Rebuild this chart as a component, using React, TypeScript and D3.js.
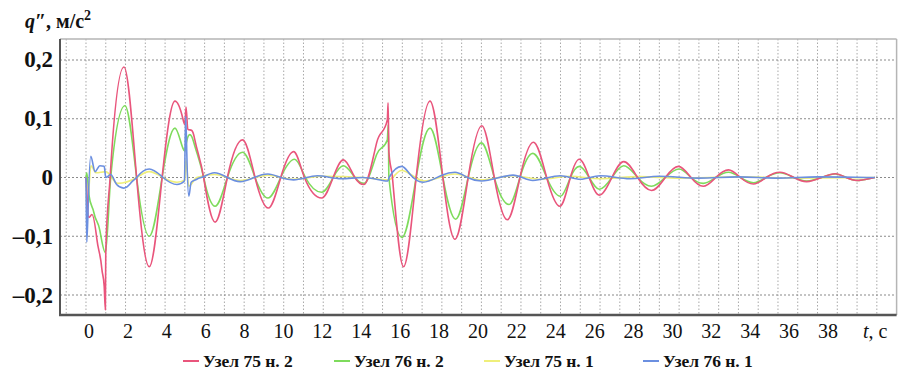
import React from "react";
import * as d3 from "d3";

// Series: time (s) and acceleration (m/s²) read point by point
const redT = [0, 0.05, 0.15, 0.3, 0.55, 0.8, 0.92, 0.98, 1.0, 1.22, 1.92, 2.56, 3.2, 3.85, 4.5, 4.9, 5.0, 5.06, 5.15, 5.35, 5.5, 5.95, 6.53, 7.15, 7.92, 8.55, 9.22, 9.85, 10.5, 11.05, 11.92, 12.5, 13.02, 13.6, 14.06, 14.7, 15.24, 15.28, 15.32, 15.5, 16.06, 16.7, 17.4, 18.05, 18.66, 19.33, 20.02, 20.65, 21.31, 21.95, 22.63, 23.3, 23.97, 24.5, 24.95, 25.45, 25.96, 26.6, 27.2, 27.9, 28.6, 29.3, 29.96, 30.6, 31.22, 31.85, 32.5, 33.1, 33.76, 34.4, 35.1, 35.8, 36.45, 37.2, 37.9, 38.45, 39.0, 39.9];
const redV = [0, -0.03, -0.068, -0.063, -0.105, -0.155, -0.185, -0.225, -0.128, 0, 0.188, 0, -0.152, 0, 0.13, 0.1, 0.09, 0.12, 0.082, 0.08, 0.065, 0, -0.076, 0, 0.064, 0, -0.052, 0, 0.044, 0, -0.035, 0, 0.03, 0, -0.012, 0.059, 0.098, 0.127, 0.044, 0, -0.152, 0, 0.13, 0, -0.105, 0, 0.088, 0, -0.072, 0, 0.06, 0, -0.049, 0, 0.031, 0, -0.03, 0, 0.027, 0, -0.022, 0, 0.019, 0, -0.015, 0, 0.013, 0, -0.011, 0, 0.009, 0, -0.007, 0, 0.0065, 0, -0.005, 0];

const greenT = [0, 0.04, 0.15, 0.4, 0.7, 0.98, 1.25, 1.97, 2.56, 3.2, 3.85, 4.5, 4.9, 5.0, 5.08, 5.25, 5.45, 5.95, 6.53, 7.15, 7.92, 8.55, 9.2, 9.85, 10.55, 11.1, 11.92, 12.5, 13.02, 13.6, 14.06, 14.7, 15.24, 15.29, 15.32, 15.98, 16.7, 17.4, 18.05, 18.7, 19.33, 20.0, 20.65, 21.4, 21.95, 22.6, 23.3, 24.0, 24.5, 24.95, 25.45, 25.96, 26.6, 27.2, 27.9, 28.6, 29.3, 30.0, 30.6, 31.22, 31.85, 32.5, 33.1, 33.76, 34.4, 35.1, 35.8, 36.45, 37.2, 37.9, 38.45, 39.0, 39.9];
const greenV = [0, 0.008, -0.03, -0.06, -0.09, -0.128, 0, 0.122, 0, -0.1, 0, 0.084, 0.05, 0.045, 0.06, 0.073, 0.06, 0, -0.049, 0, 0.043, 0, -0.035, 0, 0.031, 0, -0.025, 0, 0.02, 0, -0.01, 0.039, 0.064, 0.09, 0, -0.102, 0, 0.084, 0, -0.071, 0, 0.059, 0, -0.046, 0, 0.041, 0, -0.032, 0, 0.019, 0, -0.02, 0, 0.02, 0, -0.015, 0, 0.0145, 0, -0.01, 0, 0.009, 0, -0.009, 0, 0.008, 0, -0.006, 0, 0.006, 0, -0.005, 0];

const yellowT = [0, 0.05, 0.25, 0.5, 1.0, 1.6, 2.56, 3.2, 3.9, 4.6, 5.0, 5.05, 5.2, 5.6, 6.5, 7.8, 9.2, 10.5, 12.0, 14.0, 15.3, 15.95, 17.1, 18.66, 20.0, 21.6, 23.0, 24.5, 26.0, 28.0, 30.0, 33.0, 36.0, 39.9];
const yellowV = [0, -0.06, 0.02, 0.008, 0.01, -0.01, 0, 0.01, 0, -0.008, -0.004, 0.03, -0.015, 0, 0.005, -0.005, 0.004, -0.003, 0.002, 0, -0.004, 0.012, -0.006, 0.006, -0.004, 0.003, -0.003, 0.002, -0.002, 0.0015, -0.001, 0.001, -0.001, 0];

const blueT = [0, 0.04, 0.1, 0.24, 0.46, 0.7, 0.92, 1.0, 1.25, 1.55, 1.9, 2.3, 2.56, 3.2, 3.9, 4.6, 4.98, 5.04, 5.1, 5.2, 5.32, 5.6, 6.0, 6.5, 7.15, 7.8, 8.5, 9.2, 9.85, 10.5, 11.7, 12.9, 14.0, 15.0, 15.27, 15.33, 15.97, 16.4, 17.06, 18.0, 18.66, 19.3, 20.0, 21.6, 22.6, 24.0, 25.0, 26.0, 27.5, 29.0, 31.0, 33.0, 35.0, 37.0, 39.9];
const blueV = [0, -0.11, -0.06, 0.036, 0.01, 0.02, 0.019, 0, 0.005, -0.012, -0.018, -0.008, 0, 0.0145, 0, -0.012, -0.006, 0.104, 0.04, -0.032, -0.008, -0.003, 0.002, 0.008, 0, -0.007, 0, 0.006, 0, -0.004, 0.003, -0.002, 0, -0.005, -0.006, 0, 0.019, 0.005, -0.008, 0.004, 0.009, 0, -0.006, 0.004, -0.005, 0.003, -0.003, 0.003, -0.002, 0.002, -0.001, 0.001, -0.001, 0.001, 0];

// Axis ticks
const xTicks = [0, 2, 4, 6, 8, 10, 12, 14, 16, 18, 20, 22, 24, 26, 28, 30, 32, 34, 36, 38];
const yTicks = [0.2, 0.1, 0, -0.1, -0.2];
const yTickLabels = ["0,2", "0,1", "0", "\u20130,1", "\u20130,2"];

// Legend
const seriesNames = ["Узел 75 н. 2", "Узел 76 н. 2", "Узел 75 н. 1", "Узел 76 н. 1"];
const seriesColors = ["#e9557c", "#7edb5c", "#efef7a", "#6b8fe0"];

const FONT = "Liberation Serif, DejaVu Serif, Times New Roman, serif";

// Monotone cubic curve with tangents steepened at zero crossings so that the
// oscillations keep a rounded, sine-like crest; extrema keep a flat tangent.
function curveRoundMonotone(context: any) {
  let xs: number[] = [];
  let ys: number[] = [];
  return {
    areaStart() {},
    areaEnd() {},
    lineStart() {
      xs = [];
      ys = [];
    },
    point(px: number, py: number) {
      xs.push(+px);
      ys.push(+py);
    },
    lineEnd() {
      const n = xs.length;
      if (!n) return;
      context.moveTo(xs[0], ys[0]);
      if (n === 1) return;
      const h: number[] = [];
      const s: number[] = [];
      for (let i = 0; i < n - 1; i++) {
        h.push(xs[i + 1] - xs[i]);
        s.push(h[i] ? (ys[i + 1] - ys[i]) / h[i] : 0);
      }
      const m = new Array(n).fill(0);
      for (let i = 1; i < n - 1; i++) {
        const s0 = s[i - 1];
        const s1 = s[i];
        if (s0 * s1 <= 0) continue;
        const avg = (s0 * h[i] + s1 * h[i - 1]) / (h[i - 1] + h[i]);
        const lim = 2.1 * Math.min(Math.abs(s0), Math.abs(s1));
        m[i] = Math.sign(s0) * Math.min(1.5 * Math.abs(avg), lim);
      }
      m[0] = s[0];
      m[n - 1] = s[n - 2];
      for (let i = 0; i < n - 1; i++) {
        const dx = h[i] / 3;
        context.bezierCurveTo(
          xs[i] + dx,
          ys[i] + m[i] * dx,
          xs[i + 1] - dx,
          ys[i + 1] - m[i + 1] * dx,
          xs[i + 1],
          ys[i + 1]
        );
      }
    },
  };
}

export default function App() {
  const x = d3.scaleLinear().domain([-1.315, 41]).range([60, 896.6]);
  const y = d3.scaleLinear().domain([-0.234, 0.2357]).range([315, 39]);
  // tick labels are typeset on a slightly tighter pitch than the grid
  const xLabel = d3.scaleLinear().domain([0, 38]).range([89, 828]);

  const line = d3
    .line<[number, number]>()
    .x((d) => x(d[0]))
    .y((d) => y(d[1]))
    .curve(curveRoundMonotone as any);

  const zip = (t: number[], v: number[]) => t.map((tt, i) => [tt, v[i]] as [number, number]);
  const series = [
    { data: zip(yellowT, yellowV), color: seriesColors[2] },
    { data: zip(greenT, greenV), color: seriesColors[1] },
    { data: zip(redT, redV), color: seriesColors[0] },
    { data: zip(blueT, blueV), color: seriesColors[3] },
  ];

  const [x0, x1] = x.range();
  const [yb, yt] = y.range();
  const gridT = d3.range(-1, 41);

  const legendLineX = [183, 334, 484, 643];
  const txt = { fontFamily: FONT, fill: "#111" } as React.CSSProperties;

  return (
    <svg
      width={901}
      height={376}
      style={{ position: "absolute", left: 0, top: 0, background: "#fff" }}
    >
      {/* vertical grid */}
      {gridT.map((t) => (
        <line key={"v" + t} x1={x(t)} x2={x(t)} y1={yt} y2={yb} stroke="#a8a8a8" strokeWidth={1} strokeDasharray="1.5,2" />
      ))}
      {/* horizontal grid */}
      {yTicks.map((v) => (
        <line key={"h" + v} x1={x0} x2={x1} y1={y(v)} y2={y(v)} stroke="#8a8a8a" strokeWidth={1.2} strokeDasharray="2,2" />
      ))}
      {/* frame */}
      <line x1={x0} x2={x1} y1={yt} y2={yt} stroke="#b5b5b5" strokeWidth={1.5} />
      <line x1={x1} x2={x1} y1={yt} y2={yb} stroke="#b5b5b5" strokeWidth={1.5} />
      <line x1={x0} x2={x0} y1={yt} y2={yb} stroke="#555" strokeWidth={2} />
      <line x1={x0 - 1} x2={x1} y1={yb} y2={yb} stroke="#555" strokeWidth={2.5} />

      {/* curves */}
      {series.map((s, i) => (
        <path key={i} d={line(s.data) || ""} fill="none" stroke={s.color} strokeWidth={1.6} strokeLinejoin="round" />
      ))}

      {/* y tick labels */}
      {yTicks.map((v, i) => (
        <text key={"yl" + v} x={53} y={y(v) + 7.5} textAnchor="end" style={{ ...txt, fontSize: 23, fontWeight: 700 }}>
          {yTickLabels[i]}
        </text>
      ))}
      {/* x tick labels */}
      {xTicks.map((t) => (
        <text key={"xl" + t} x={xLabel(t)} y={338} textAnchor="middle" style={{ ...txt, fontSize: 20 }}>
          {t}
        </text>
      ))}
      <text x={863} y={338} style={{ ...txt, fontSize: 20 }}>
        <tspan style={{ fontStyle: "italic" }}>t</tspan>, с
      </text>

      {/* y axis title */}
      <text x={25} y={28} style={{ ...txt, fontSize: 20, fontWeight: 700 }}>
        <tspan style={{ fontStyle: "italic" }}>q</tspan>″, м/с
        <tspan dy={-8} style={{ fontSize: 14 }}>2</tspan>
      </text>

      {/* legend */}
      {seriesNames.map((name, i) => (
        <g key={name}>
          <line x1={legendLineX[i]} x2={legendLineX[i] + 16} y1={361} y2={361} stroke={seriesColors[i]} strokeWidth={2} />
          <text x={legendLineX[i] + 20} y={367} style={{ ...txt, fontSize: 17.5, fontWeight: 700 }}>
            {name}
          </text>
        </g>
      ))}
    </svg>
  );
}
